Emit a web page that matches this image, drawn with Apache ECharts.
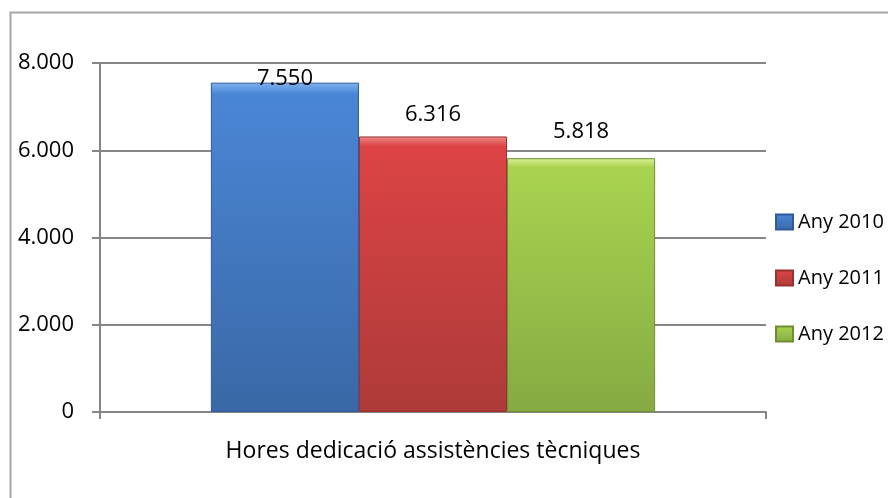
<!DOCTYPE html>
<html>
<head>
<meta charset="utf-8">
<script src="https://cdn.jsdelivr.net/npm/echarts@6/dist/echarts.min.js"></script>
<style>
  html, body { margin: 0; padding: 0; background: #fff; }
  #main { width: 888px; height: 498px; }
</style>
</head>
<body>
<div id="main"></div>
<script>
// data
var categories = ["Hores dedicació assistències tècniques"];
var seriesNames = ["Any 2010", "Any 2011", "Any 2012"];
var values2010 = [7550];
var values2011 = [6316];
var values2012 = [5818];
var yTicks = [0, 2000, 4000, 6000, 8000];

var font = "Open Sans";

// top highlight -> base -> darker bottom, like the bevelled excel bars
function barGrad(light, base, dark) {
  return new echarts.graphic.LinearGradient(0, 0, 0, 1, [
    { offset: 0, color: light },
    { offset: 0.035, color: base },
    { offset: 1, color: dark }
  ]);
}

function fmt(v) {
  // thousands separator is a dot
  return String(v).replace(/\B(?=(\d{3})+(?!\d))/g, ".");
}

function makeSeries(name, data, grad, border, labelDist) {
  return {
    name: name,
    type: "bar",
    data: data,
    barGap: "0%",
    barCategoryGap: "33.3%",
    itemStyle: { color: grad, borderColor: border, borderWidth: 1 },
    label: {
      show: true,
      position: "top",
      distance: labelDist,
      color: "#000",
      fontFamily: font,
      fontSize: 22,
      formatter: function (p) { return fmt(p.value); }
    }
  };
}

var myChart = echarts.init(document.getElementById("main"));

var option = {
  animation: false,
  backgroundColor: "#fff",
  textStyle: { fontFamily: font },
  graphic: [
    {
      type: "rect",
      left: 8,
      top: 10,
      shape: { width: 900, height: 500 },
      style: { fill: "none", stroke: "#a6a6a6", lineWidth: 2 },
      silent: true
    }
  ],
  grid: { left: 100, right: 122, top: 63, bottom: 86 },
  legend: {
    orient: "vertical",
    left: 770,
    top: 207,
    data: seriesNames,
    icon: "rect",
    itemWidth: 17,
    itemHeight: 15,
    itemGap: 36,
    textStyle: { fontFamily: font, fontSize: 20, color: "#000" }
  },
  xAxis: {
    type: "category",
    data: categories,
    axisLine: { lineStyle: { color: "#868686", width: 2 } },
    axisTick: { show: true, length: 7, lineStyle: { color: "#868686", width: 2 } },
    axisLabel: { margin: 28, color: "#000", fontFamily: font, fontSize: 23 }
  },
  yAxis: {
    type: "value",
    min: yTicks[0],
    max: yTicks[yTicks.length - 1],
    interval: 2000,
    axisLine: { show: true, lineStyle: { color: "#868686", width: 2 } },
    axisTick: { show: true, length: 8, lineStyle: { color: "#868686", width: 2 } },
    splitLine: { lineStyle: { color: "#868686", width: 2 } },
    axisLabel: {
      margin: 26,
      color: "#000",
      fontFamily: font,
      fontSize: 22,
      formatter: function (v) { return fmt(v); }
    }
  },
  series: [
    makeSeries(seriesNames[0], values2010, barGrad("#7fb2ee", "#4a86d6", "#3a68a6"), "#30589a", -7),
    makeSeries(seriesNames[1], values2011, barGrad("#f08a8a", "#dc4444", "#ae3a3a"), "#983030", 11),
    makeSeries(seriesNames[2], values2012, barGrad("#def09a", "#a9d350", "#86aa42"), "#6f8e34", 15)
  ]
};

myChart.setOption(option);
</script>
</body>
</html>
